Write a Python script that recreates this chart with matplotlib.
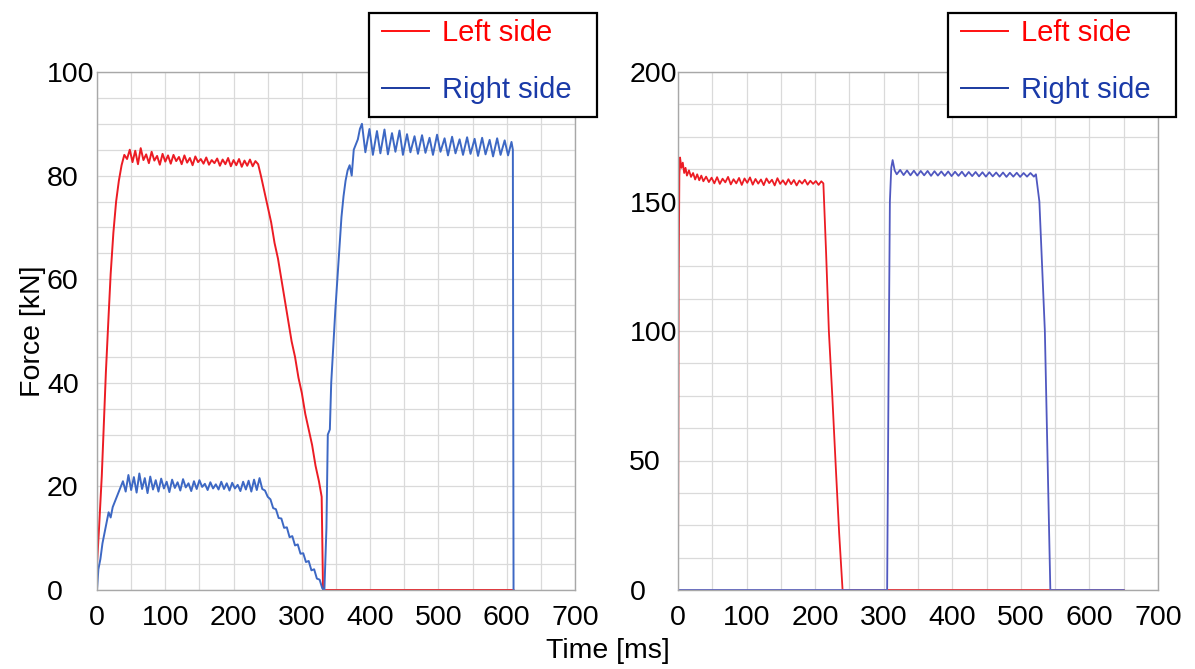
import numpy as np
import matplotlib.pyplot as plt
from matplotlib.ticker import MultipleLocator
from matplotlib.patches import Rectangle

plt.rcParams['font.family'] = ['Liberation Sans', 'DejaVu Sans']

# ---- left chart (force in kN, time in ms) ----
left_red_t = [0, 3, 7, 10, 13, 17, 20, 24, 28, 32, 36, 40,
              44, 48, 52, 56, 60, 64, 68, 72, 76, 80, 84, 88, 92, 96, 100,
              104, 108, 112, 116, 120, 124, 128, 132, 136, 140, 144, 148, 152,
              156, 160, 164, 168, 172, 176, 180, 184, 188, 192, 196, 200, 204,
              208, 212, 216, 220, 224, 228, 232, 236,
              240, 245, 250, 255, 260, 265, 270, 275, 280, 285, 290, 295, 300,
              305, 310, 315, 320, 325, 329, 331, 610]
left_red_f = [5, 12, 22, 32, 42, 53, 61, 69, 75, 79, 82, 84,
              83.2, 85.0, 82.6, 84.8, 82.2, 85.3, 83.0, 84.1, 82.4, 84.6, 82.9, 83.8, 82.1, 84.2, 82.7,
              83.9, 82.3, 84.0, 82.8, 83.6, 82.2, 83.9, 82.5, 83.4, 82.0, 83.7, 82.6, 83.2,
              82.3, 83.5, 82.1, 83.0, 82.4, 83.3, 81.9, 83.1, 82.2, 83.4, 81.8, 83.0, 82.0,
              83.2, 81.7, 82.9, 81.9, 83.1, 81.8, 82.8, 82.2,
              80, 77, 74, 71, 67, 64, 60, 56, 52, 48, 45, 41, 38,
              34, 31, 28, 24, 21, 18, 0, 0]

left_blue_t = [0, 2, 5, 8, 11, 14, 17, 20, 23, 26, 29, 32, 35, 38,
               42, 46, 50, 54, 58, 62, 66, 70, 74, 78, 82, 86, 90, 94, 98, 102,
               106, 110, 114, 118, 122, 126, 130, 134, 138, 142, 146, 150, 154,
               158, 162, 166, 170, 174, 178, 182, 186, 190, 194, 198, 202, 206,
               210, 214, 218, 222, 226, 230, 234, 238, 242,
               246, 250, 254, 258, 262, 266, 270, 274, 278, 282, 286, 290, 294,
               298, 302, 306, 310, 314, 318, 322, 326, 330, 333,
               336, 338, 341, 343, 346, 349, 352, 355, 358, 361, 364, 367, 370,
               373, 376, 379, 382, 385,
               388, 393, 399, 404, 410, 415, 421, 426, 432, 437, 443, 448, 454,
               459, 465, 470, 476, 481, 487, 492, 498, 503, 509, 514, 520, 525,
               531, 536, 542, 547, 553, 558, 564, 569, 575, 580, 586, 591, 597,
               602, 607, 609, 610]
left_blue_f = [0, 4, 6, 9, 11, 13, 15, 14, 16, 17, 18, 19, 20, 21,
               19.0, 22.2, 19.3, 21.8, 18.8, 22.5, 19.5, 21.6, 18.7, 21.9, 19.4, 21.2, 19.0, 21.5, 19.6, 20.9,
               18.9, 21.3, 19.7, 20.8, 19.2, 21.4, 19.8, 20.6, 19.1, 21.0, 19.5, 21.2, 19.9,
               20.5, 19.3, 20.8, 19.6, 20.4, 19.4, 20.9, 19.5, 20.6, 19.2, 20.7, 19.6, 20.3,
               19.1, 20.9, 19.4, 21.1, 19.0, 21.3, 19.3, 21.6, 19.5,
               19.2, 18.0, 17.5, 15.8, 15.6, 13.9, 13.8, 12.0, 12.1, 10.2, 10.4, 8.6, 8.8,
               7.0, 7.1, 5.4, 5.6, 3.8, 4.0, 2.2, 2.0, 0.3, 0,
               12, 30, 31, 40, 47, 54, 60, 66, 72, 76, 79, 81, 82,
               80, 85, 86, 87, 89,
               90.0, 84.5, 89.0, 84.0, 88.6, 84.3, 88.9, 84.1, 88.2, 84.6, 88.7, 84.0, 88.0,
               84.5, 87.6, 84.2, 87.8, 84.4, 87.3, 84.0, 87.9, 84.6, 87.2, 83.9, 87.5, 84.3,
               87.0, 84.0, 87.4, 84.2, 87.1, 83.8, 87.3, 84.1, 86.9, 83.7, 87.2, 84.0, 86.8,
               83.9, 86.5, 85, 0]

# ---- right chart ----
right_red_t = [0, 1, 2, 3, 5, 7, 9, 11, 13, 16, 19, 22, 25, 28, 31, 34, 37,
               41, 45, 49, 53, 57, 61, 65, 69, 73, 77, 81, 85, 89, 93, 97, 101,
               105, 109, 113, 117, 121, 125, 129, 133, 137, 141, 145, 149, 153,
               157, 161, 165, 169, 173, 177, 181, 185, 189, 193, 197, 201, 205,
               209, 212, 216, 220, 225, 230, 235, 240, 650]
right_red_f = [0, 120, 160, 167, 163, 165, 161, 163, 160, 162, 159.5, 161, 158.5, 160.5, 158.2, 160, 157.8,
               159.6, 157.5, 159.2, 157.0, 159.4, 156.8, 158.8, 157.4, 159.5, 156.6, 158.6, 157.0, 159.1, 156.4, 158.9, 157.2,
               159.3, 156.5, 158.7, 156.9, 158.5, 156.3, 158.9, 157.1, 158.4, 156.2, 159.0, 156.8, 158.2,
               156.5, 158.6, 156.7, 158.3, 156.2, 158.1, 156.9, 158.4, 156.5, 158.0, 156.8, 157.9, 156.4,
               157.8, 157, 130, 100, 75, 48, 22, 0, 0]

right_blue_t = [0, 305, 307, 309, 311, 313, 316, 319,
                324, 329, 334, 339, 344, 349, 354, 359, 364, 369, 374, 379, 384,
                389, 394, 399, 404, 409, 414, 419, 424, 429, 434, 439, 444, 449,
                454, 459, 464, 469, 474, 479, 484, 489, 494, 499, 504, 509, 514,
                519, 522, 527, 531, 535, 539, 543, 650]
right_blue_f = [0, 0, 80, 150, 163, 166, 162, 160.5,
                162.2, 160.2, 162.0, 160.1, 161.9, 160.0, 161.8, 160.1, 161.8, 159.9, 161.7, 160.0, 161.6,
                159.9, 161.6, 159.8, 161.5, 159.9, 161.5, 159.7, 161.4, 159.8, 161.4, 159.7, 161.3, 159.6,
                161.3, 159.7, 161.2, 159.6, 161.2, 159.5, 161.1, 159.6, 161.1, 159.5, 161.0, 159.6, 161.0,
                159.6, 160.5, 150, 125, 100, 50, 0, 0]

labels = ['Left side', 'Right side']

fig = plt.figure(figsize=(11.95, 6.69), dpi=100)
W, H = 1195, 669
FS = 20.5

def make_axes(x0, x1, ymax, ystep, yminor, pad):
    ax = fig.add_axes([x0 / W, 1 - 590 / H, (x1 - x0) / W, (590 - 72) / H])
    ax.set_xlim(0, 700)
    ax.set_ylim(0, ymax)
    ax.xaxis.set_major_locator(MultipleLocator(100))
    ax.xaxis.set_minor_locator(MultipleLocator(50))
    ax.yaxis.set_major_locator(MultipleLocator(ystep))
    ax.yaxis.set_minor_locator(MultipleLocator(yminor))
    ax.grid(which='both', color='#dadada', linewidth=0.9)
    ax.set_axisbelow(True)
    for s in ax.spines.values():
        s.set_color('#a8a8a8')
        s.set_linewidth(1.0)
    ax.tick_params(which='both', length=0, labelsize=FS)
    ax.tick_params(axis='x', pad=11)
    ax.tick_params(axis='y', pad=pad)
    for t in ax.get_yticklabels():
        t.set_horizontalalignment('left')
    return ax

ax1 = make_axes(97, 575, 100, 20, 5, 36)
ax1.plot(left_red_t, left_red_f, color='#ec1c24', lw=1.4)
ax1.plot(left_blue_t, left_blue_f, color='#3d68c4', lw=1.4)

ax2 = make_axes(678, 1158, 200, 50, 12.5, 35)
ax2.plot(right_red_t, right_red_f, color='#ec1c24', lw=1.3)
ax2.plot(right_blue_t, right_blue_f, color='#5058c0', lw=1.3)

ax1.set_ylabel('Force [kN]', fontsize=FS)
ax1.yaxis.set_label_coords((46 - 97) / 478, 0.5)
fig.text(608 / W, 1 - 651 / H, 'Time [ms]', fontsize=FS, ha='center', va='center')

def add_legend(x0, x1):
    fig.patches.append(Rectangle((x0 / W, 1 - 117 / H), (x1 - x0) / W, 104 / H,
                                 transform=fig.transFigure, facecolor='white',
                                 edgecolor='black', linewidth=1.6, zorder=4))
    handles = [plt.Line2D([], [], color='#ff1010', lw=1.4),
               plt.Line2D([], [], color='#1a3aa0', lw=1.4)]
    leg = fig.legend(handles, labels, loc='upper left',
                     bbox_to_anchor=((x0 + 13) / W, 1 - 19 / H),
                     fontsize=21, frameon=False, borderaxespad=0, borderpad=0,
                     handlelength=1.6, handletextpad=0.45, labelspacing=1.0)
    leg.set_zorder(5)
    leg.get_texts()[0].set_color('#ff0000')
    leg.get_texts()[1].set_color('#1a3aa8')

add_legend(369, 597)
add_legend(948, 1176)

fig.savefig('out.png', dpi=100)
